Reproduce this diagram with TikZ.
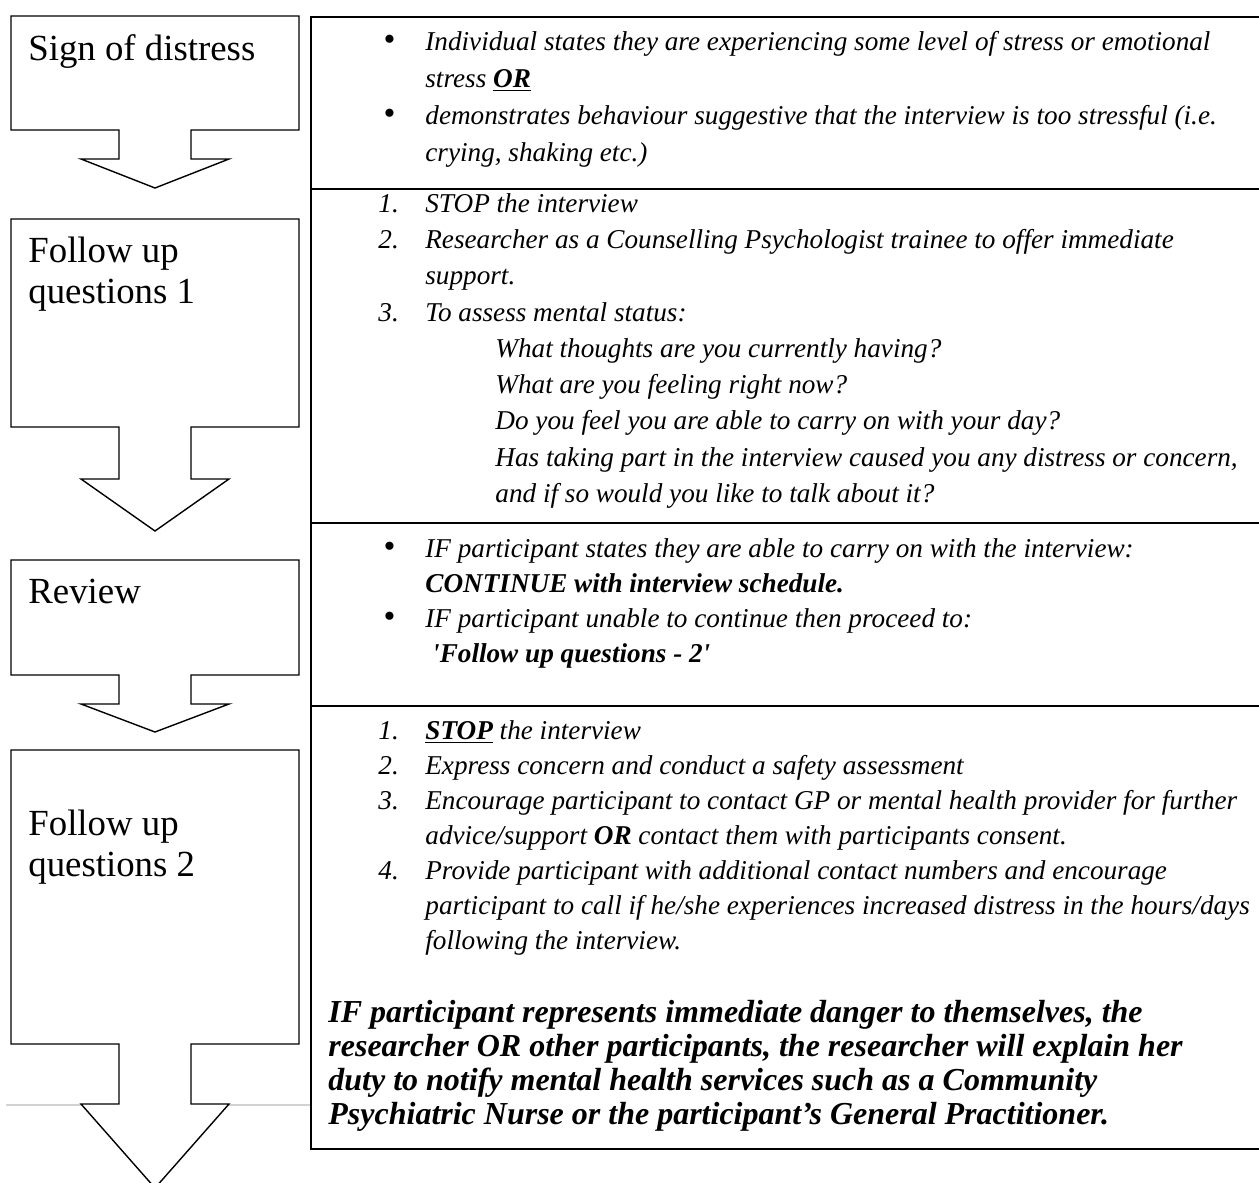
\documentclass[tikz,border=0pt]{standalone}
\usepackage{fontspec}
\setmainfont{Liberation Serif}
\usetikzlibrary{positioning}
\newcommand{\lbl}[1]{\makebox[23.5pt][l]{#1}}
\newcommand{\bul}{\hspace*{2.6pt}{\upshape\fontsize{17}{17}\selectfont\textbullet}}
\tikzset{
  stagebox/.style={draw, fill=white, line width=0.7pt, line join=miter},
  tableline/.style={draw, line width=1pt},
  stagetext/.style={anchor=north west, inner sep=0pt, font=\fontsize{18.4}{20.5}\selectfont},
  rowtext/.style={anchor=north west, inner sep=0pt, font=\itshape\fontsize{13.6}{18.25}\selectfont},
  notetext/.style={anchor=north west, inner sep=0pt, font=\bfseries\itshape\fontsize{16}{17}\selectfont}
}
\begin{document}
\begin{tikzpicture}[x=0.5pt,y=-0.5pt]
  \clip (0,0) rectangle (1259,1183);
  % faint page line
  \draw[gray!35, line width=0.6pt] (6,1105) -- (311,1105);
  % stages with their down arrows
  \foreach \top/\bot/\stem/\tip in {16/130/159/188, 219/427/479/531, 560/675/704/732, 750/1044/1104/1188}
    \draw[stagebox] (11,\top) -- (299,\top) -- (299,\bot) -- (191,\bot) -- (191,\stem) -- (229,\stem)
      -- (155,\tip) -- (81,\stem) -- (119,\stem) -- (119,\bot) -- (11,\bot) -- cycle;
  \node[stagetext] (distress) at (28,31.3) {\begin{tabular}{@{}l@{}}Sign of distress\end{tabular}};
  \node[stagetext] (followone) at (28,233.3) {\begin{tabular}{@{}l@{}}Follow up\\questions 1\end{tabular}};
  \node[stagetext] (review) at (28,574.3) {\begin{tabular}{@{}l@{}}Review\end{tabular}};
  \node[stagetext] (followtwo) at (28,806.3) {\begin{tabular}{@{}l@{}}Follow up\\questions 2\end{tabular}};
  % table on the right
  \draw[tableline] (311,17) rectangle (1262,1149);
  \foreach \y in {189,523,706}
    \draw[tableline] (311,\y) -- (1262,\y);
  \node[rowtext, font=\itshape\fontsize{13.6}{18.5}\selectfont] (signrow) at (378,24.1) {\begin{tabular}{@{}l@{}}
    \lbl{\bul}Individual states they are experiencing some level of stress or emotional\\
    \lbl{}stress \underline{\textbf{OR}}\\
    \lbl{\bul}demonstrates behaviour suggestive that the interview is too stressful (i.e.\\
    \lbl{}crying, shaking etc.)
  \end{tabular}};
  \node[rowtext, font=\itshape\fontsize{13.6}{18.125}\selectfont] (followonerow) at (378,186.6) {\begin{tabular}{@{}l@{}}
    \lbl{1.}STOP the interview\\
    \lbl{2.}Researcher as a Counselling Psychologist trainee to offer immediate\\
    \lbl{}support.\\
    \lbl{3.}To assess mental status:\\
    \lbl{}\hspace*{35pt}What thoughts are you currently having?\\
    \lbl{}\hspace*{35pt}What are you feeling right now?\\
    \lbl{}\hspace*{35pt}Do you feel you are able to carry on with your day?\\
    \lbl{}\hspace*{35pt}Has taking part in the interview caused you any distress or concern,\\
    \lbl{}\hspace*{35pt}and if so would you like to talk about it?
  \end{tabular}};
  \node[rowtext, font=\itshape\fontsize{13.6}{17.5}\selectfont] (reviewrow) at (378,532.5) {\begin{tabular}{@{}l@{}}
    \lbl{\bul}IF participant states they are able to carry on with the interview:\\
    \lbl{}\textbf{CONTINUE with interview schedule.}\\
    \lbl{\bul}IF participant unable to continue then proceed to:\\
    \lbl{}\hspace*{3.4pt}\textbf{\textquotesingle Follow up questions - 2\textquotesingle}
  \end{tabular}};
  \node[rowtext, font=\itshape\fontsize{13.6}{17.5}\selectfont] (followtworow) at (378,714.5) {\begin{tabular}{@{}l@{}}
    \lbl{1.}\underline{\textbf{STOP}} the interview\\
    \lbl{2.}Express concern and conduct a safety assessment\\
    \lbl{3.}Encourage participant to contact GP or mental health provider for further\\
    \lbl{}advice/support \textbf{OR} contact them with participants consent.\\
    \lbl{4.}Provide participant with additional contact numbers and encourage\\
    \lbl{}participant to call if he/she experiences increased distress in the hours/days\\
    \lbl{}following the interview.
  \end{tabular}};
  \node[notetext] (dangernote) at (328,998.2) {\begin{tabular}{@{}l@{}}
    IF participant represents immediate danger to themselves, the\\
    researcher OR other participants, the researcher will explain her\\
    duty to notify mental health services such as a Community\\
    Psychiatric Nurse or the participant’s General Practitioner.
  \end{tabular}};
\end{tikzpicture}
\end{document}
